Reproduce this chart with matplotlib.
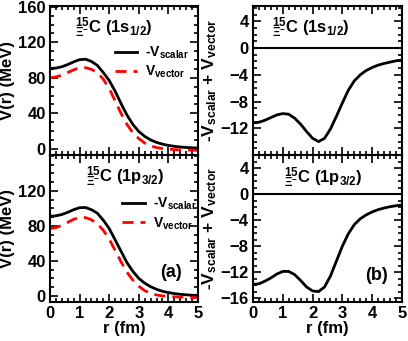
import numpy as np
import matplotlib
matplotlib.use('Agg')
import matplotlib.pyplot as plt
from matplotlib.ticker import MultipleLocator

plt.rcParams['font.family'] = ['Liberation Sans', 'DejaVu Sans']
plt.rcParams['font.weight'] = 'bold'
plt.rcParams['mathtext.fontset'] = 'custom'
plt.rcParams['mathtext.rm'] = 'Liberation Sans:bold'
plt.rcParams['mathtext.it'] = 'Liberation Sans:bold'
plt.rcParams['mathtext.bf'] = 'Liberation Sans:bold'
plt.rcParams['mathtext.default'] = 'rm'

# radial grid (fm)
r = np.round(np.arange(0, 5.01, 0.2), 2)

# 1s1/2 potentials (MeV)
s_scalar = [90.5, 91, 92.5, 95, 98, 100.5, 101, 98.5, 94, 86, 77, 65, 51, 38, 27.5,
            19.5, 14, 10, 7.2, 5.2, 3.8, 2.8, 2.0, 1.5, 1.1, 0.8]
s_vector = [80, 81, 83, 86, 89, 91.5, 91.5, 89.5, 86, 78.5, 68, 54, 40, 27.5, 18,
            11.5, 6.5, 3.3, 1.4, 0.3, -0.4, -0.9, -1.2, -1.4, -1.5, -1.6]
s_sum = [-11.2, -11.1, -10.8, -10.4, -10.0, -9.8, -9.9, -10.5, -11.4, -12.5, -13.5,
         -14.0, -13.5, -12.1, -10.2, -8.2, -6.3, -4.9, -4.0, -3.35, -2.9, -2.55,
         -2.3, -2.1, -1.9, -1.8]

# 1p3/2 potentials (MeV)
p_scalar = [91, 91.5, 93, 95.5, 98.5, 100.8, 101, 98.5, 94.5, 86.5, 77, 64, 51, 38, 28,
            20, 14.5, 10.5, 7.5, 5.2, 3.8, 2.6, 1.8, 1.2, 0.8, 0.5]
p_vector = [77, 78, 80.5, 84, 87.5, 89.5, 89.5, 87, 82.5, 75, 65, 52, 39, 27, 18,
            11, 6, 2.8, 1.0, 0.0, -0.6, -1.1, -1.4, -1.7, -1.9, -2.0]
p_sum = [-13.9, -13.8, -13.4, -12.9, -12.3, -11.9, -11.9, -12.4, -13.3, -14.3, -14.9,
         -15.0, -14.3, -12.6, -10.3, -8.0, -6.1, -4.7, -3.8, -3.2, -2.75, -2.4,
         -2.15, -1.95, -1.8, -1.7]

state_s = r'$^{15}_{\Xi^{-}}$C (1s$_{1/2}$)'
state_p = r'$^{15}_{\Xi^{-}}$C (1p$_{3/2}$)'

W, H = 408, 341
fig = plt.figure(figsize=(W / 100, H / 100), dpi=100)


def box(x0, y0, x1, y1):
    return [x0 / W, 1 - y1 / H, (x1 - x0) / W, (y1 - y0) / H]


ax1 = fig.add_axes(box(50, 6, 198, 155))
ax2 = fig.add_axes(box(50, 155, 198, 302))
ax3 = fig.add_axes(box(253, 6, 402, 155))
ax4 = fig.add_axes(box(253, 155, 402, 302))


def style(ax, ymin, ymax, ymaj, ymnr):
    ax.set_xlim(0, 5)
    ax.set_ylim(ymin, ymax)
    ax.xaxis.set_major_locator(MultipleLocator(1))
    ax.xaxis.set_minor_locator(MultipleLocator(0.2))
    ax.yaxis.set_major_locator(MultipleLocator(ymaj))
    ax.yaxis.set_minor_locator(MultipleLocator(ymnr))
    ax.tick_params(which='both', direction='in', top=True, right=True, width=1.2)
    ax.tick_params(which='major', length=6, labelsize=12, pad=3)
    ax.tick_params(which='minor', length=3)
    for sp in ax.spines.values():
        sp.set_linewidth(1.5)


# left panels: potentials
for ax, vs, vv, lab in [(ax1, s_scalar, s_vector, state_s), (ax2, p_scalar, p_vector, state_p)]:
    style(ax, -7, 161, 40, 10)
    ax.plot(r, vs, color='black', lw=2, label=r'-V$_{\rm scalar}$')
    ax.plot(r, vv, color='red', lw=2, ls=(0, (4, 2.5)), label=r'V$_{\rm vector}$')
    ax.set_ylabel('V(r) (MeV)', fontsize=12, fontweight='bold', labelpad=2)

ax1.legend(frameon=False, fontsize=10, handlelength=1.6, handletextpad=0.6,
           labelspacing=0.2, loc='upper left', bbox_to_anchor=(0.42, 0.76),
           borderaxespad=0, borderpad=0.2)
ax2.legend(frameon=False, fontsize=10, handlelength=1.6, handletextpad=0.6,
           labelspacing=0.2, loc='upper left', bbox_to_anchor=(0.47, 0.74),
           borderaxespad=0, borderpad=0.2)

ax1.text(0.17, 0.82, state_s, transform=ax1.transAxes, fontsize=12)
ax2.text(0.24, 0.82, state_p, transform=ax2.transAxes, fontsize=12)
ax1.set_yticks([0, 40, 80, 120, 160])
ax2.set_yticks([0, 40, 80, 120])
ax2.set_yticks(np.arange(0, 161, 10), minor=True)
ax1.tick_params(labelbottom=False)
ax2.set_xlabel('r (fm)', fontsize=12, fontweight='bold', labelpad=0)
ax2.text(0.82, 0.2, '(a)', transform=ax2.transAxes, fontsize=13, ha='center', va='center')

# right panels: sum of potentials
for ax, vsum, lab, ymin, ymax in [(ax3, s_sum, state_s, -16, 6.3), (ax4, p_sum, state_p, -16.6, 6.0)]:
    style(ax, ymin, ymax, 4, 1)
    ax.axhline(0, color='black', lw=1.5)
    ax.plot(r, vsum, color='black', lw=2)
    ax.set_ylabel(r'-V$_{\rm scalar}$ + V$_{\rm vector}$', fontsize=12.5, fontweight='bold', labelpad=1)

ax3.text(0.13, 0.82, state_s, transform=ax3.transAxes, fontsize=12)
ax4.text(0.21, 0.81, state_p, transform=ax4.transAxes, fontsize=12)
ax3.set_yticks([-12, -8, -4, 0, 4])
ax4.set_yticks([-16, -12, -8, -4, 0, 4])
ax3.tick_params(labelbottom=False)
ax4.set_xlabel('r (fm)', fontsize=12, fontweight='bold', labelpad=0)
ax4.text(0.83, 0.18, '(b)', transform=ax4.transAxes, fontsize=13, ha='center', va='center')

fig.savefig('out.png', dpi=100)
